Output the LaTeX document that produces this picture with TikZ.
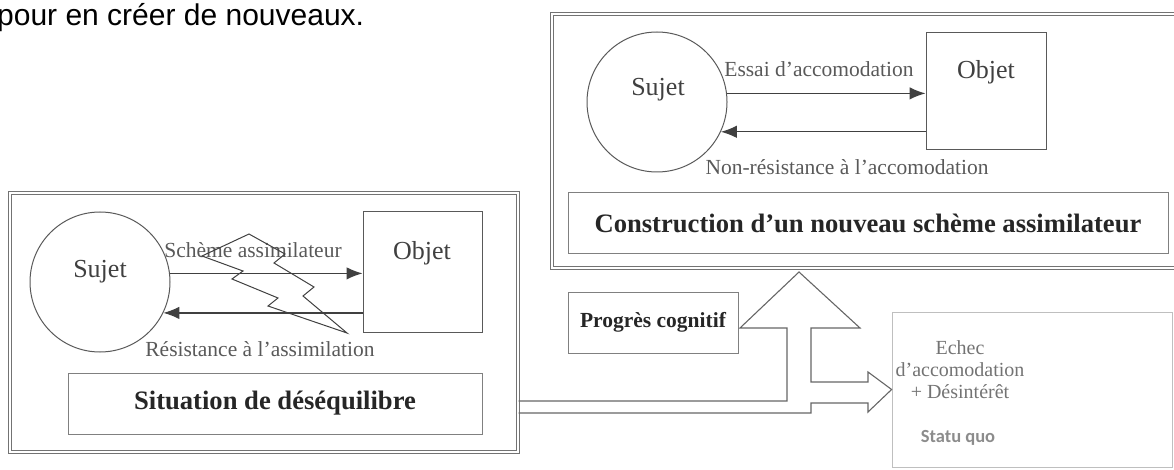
\documentclass[tikz,border=0pt]{standalone}
\usepackage{fontspec}
\setmainfont{Liberation Serif}
\newfontfamily\arialfont{Liberation Sans}
\newfontfamily\calibrifont{Carlito}
\usetikzlibrary{arrows.meta,positioning}

\begin{document}
\begin{tikzpicture}[x=1pt,y=-1pt]

    \tikzstyle{cadre} = [draw=black!55, double=white, double distance=1.4pt, line width=1pt, inner sep=0]
    \tikzstyle{sujet} = [circle, draw=black!65, line width=1, minimum size=140, inner sep=0]
    \tikzstyle{objet} = [rectangle, draw=black!65, line width=1, inner sep=0]
    \tikzstyle{titre} = [rectangle, draw=black!50, line width=1, font=\fontsize{26.6}{30}\selectfont\bfseries, text=black!85]
    \tikzstyle{mot} = [font=\fontsize{26}{30}\selectfont, text=black!75]
    \tikzstyle{lien} = [font=\fontsize{21.5}{24}\selectfont, text=black!65]
    \tikzstyle{fleche} = [line width=1.2, draw=black!75, -{Latex[length=16pt,width=12.5pt]}]
    \tikzstyle{bloc} = [line width=1.1, draw=black!60, line join=miter]

    \useasboundingbox (0,0) rectangle (1174,470);

    \node[font=\arialfont\fontsize{30}{33}\selectfont, inner sep=0, anchor=base west] (intro) at (-3,26) {pour en créer de nouveaux.};

    % situation de desequilibre
    \node[cadre, minimum width=508, minimum height=259] (cadreG) at (264,322.5) {};
    \node[sujet] (sujetG) at (100,282) {};
    \node[mot] (sujetGt) at (100,272) {Sujet};
    \node[objet, minimum width=119, minimum height=120] (objetG) at (422.5,272) {};
    \node[mot] (objetGt) at (422,253) {Objet};
    \draw[fleche] (sujetG.7) -- (sujetG.7 -| objetG.west);
    \draw[fleche] (objetG.west |- sujetG.-26) -- (sujetG.-26);
    \node[lien] (schemeG) at (253,250) {Schème assimilateur};
    \node[lien] (resistG) at (260,349) {Résistance à l’assimilation};
    \node[titre, minimum width=414, minimum height=61] (situation) at (275,403.5) {Situation de déséquilibre};

    \draw[black!75, line width=1] (202,256) -- (249,234) -- (285,254) -- (274,263) -- (314,287) -- (303,296)
        -- (347,333) -- (268,306) -- (278,298) -- (232,279) -- (243,271) -- cycle;

    % nouveau scheme
    \node[cadre, minimum width=633, minimum height=254] (cadreD) at (868.5,141) {};
    \node[sujet] (sujetD) at (657,102) {};
    \node[mot] (sujetDt) at (658,90) {Sujet};
    \node[objet, minimum width=120, minimum height=117] (objetD) at (986,91.5) {};
    \node[mot] (objetDt) at (986,72) {Objet};
    \draw[fleche] (sujetD.7) -- (sujetD.7 -| objetD.west);
    \draw[fleche] (objetD.west |- sujetD.-25) -- (sujetD.-25);
    \node[lien] (essai) at (819,69) {Essai d’accomodation};
    \node[lien] (nonresist) at (847,167) {Non-résistance à l’accomodation};
    \node[titre, minimum width=600, minimum height=60] (construction) at (868,223) {Construction d’un nouveau schème assimilateur};

    \node[titre, minimum width=170, minimum height=61, font=\fontsize{21.5}{24}\selectfont\bfseries] (progres) at (653,322.5) {Progrès cognitif};

    \node[draw=black!25, line width=0.8, minimum width=280, minimum height=155] (echec) at (1032,389.5) {};
    \node[font=\fontsize{20}{22}\selectfont, text=black!55, align=center] (echecT) at (960,370) {Echec\\d’accomodation\\+ Désintérêt};
    \node[font=\calibrifont\fontsize{18.5}{20}\selectfont\bfseries, text=black!45] (statu) at (958,438) {Statu quo};

    \draw[bloc] (cadreG.east |- 0,401) -- (787,401) -- (787,328) -- (740,328) -- (799,272) -- (860,328) -- (811,328)
        -- (811,382) -- (868,382) -- (868,372) -- (echec.west) -- (868,412) -- (868,403) -- (811,403) -- (811,413)
        -- (cadreG.east |- 0,413);
\end{tikzpicture}
\end{document}
